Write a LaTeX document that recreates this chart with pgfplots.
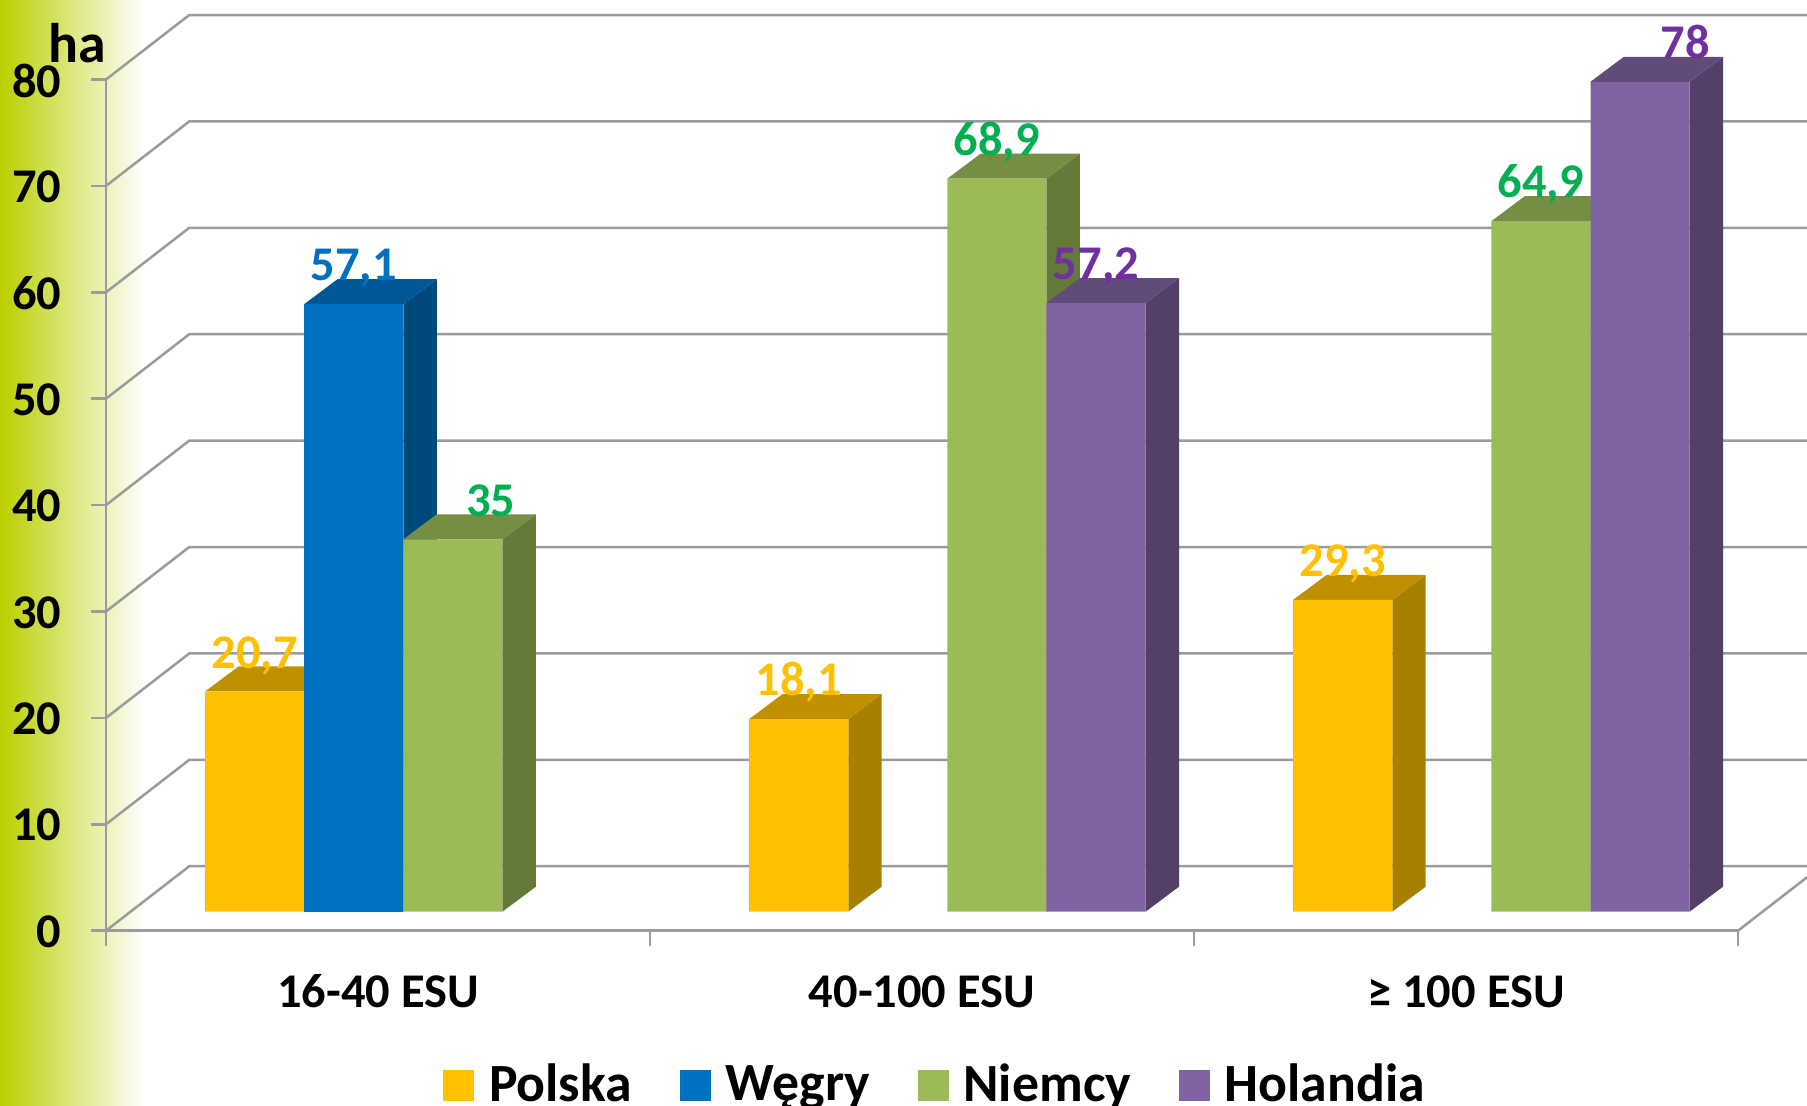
\documentclass[border=0pt]{standalone}
\usepackage{fontspec}
\setmainfont{Carlito}
\usepackage{pgfplots}
\pgfplotsset{compat=1.18}
\definecolor{lime}{RGB}{187,207,0}
\definecolor{axgray}{RGB}{155,155,155}
\definecolor{plf}{HTML}{FFC000}\definecolor{plt}{HTML}{C09000}\definecolor{pls}{HTML}{A68000}
\definecolor{wgf}{HTML}{0070C0}\definecolor{wgt}{HTML}{005796}\definecolor{wgs}{HTML}{00497D}
\definecolor{nmf}{HTML}{9BBB59}\definecolor{nmt}{HTML}{768E43}\definecolor{nms}{HTML}{647A3A}
\definecolor{hof}{HTML}{8064A2}\definecolor{hot}{HTML}{614B7B}\definecolor{hos}{HTML}{533F68}
\definecolor{lbgreen}{HTML}{00B050}\definecolor{lbpurple}{HTML}{7030A0}
\newcommand{\lblfont}{\fontsize{24.3}{27}\selectfont\bfseries}
\pgfplotsset{
  sq/.style={legend image code/.code={\fill[#1] (0,-8.25bp) rectangle (15.5bp,7.25bp);}},
  barlabels/.style={
    ybar, bar width=0.1822, bar shift=0pt, fill=#1, draw=none,
    visualization depends on={\thisrow{sh} \as \lsh},
    nodes near coords,
    nodes near coords style={font=\lblfont, text=#1, anchor=base, inner sep=0pt, yshift=11.6bp, xshift=\lsh bp},
  },
  face/.style={fill=#1, draw=none, forget plot},
  grid3d/.style={draw=axgray, line width=1.25bp, forget plot},
}
\begin{document}
\begin{tikzpicture}[x=1bp,y=1bp]
\path[use as bounding box, clip] (0,0) rectangle (903.5,553);
\shade[left color=lime, right color=white, shading angle=90] (0,0) rectangle (72.5,553);
% frame: front axis plane, walls and floor
\begin{axis}[
  at={(53bp,87.65bp)}, anchor=south west, scale only axis,
  width=816bp, height=425.6bp, xmin=0, xmax=3, ymin=0, ymax=80, clip=false,
  axis x line*=bottom, axis y line*=left,
  axis line style={draw=axgray, line width=1.25bp, -},
  xtick={0.5,1.5,2.5}, xticklabels={16-40 ESU,40-100 ESU,≥ 100 ESU},
  minor xtick={0,1,2,3}, major tick length=7.5bp, minor tick length=7.5bp,
  tick align=outside,
  xtick style={draw=none},
  minor x tick style={draw=axgray, line width=1.25bp},
  ytick={0,10,...,80},
  ytick style={draw=axgray, line width=1.25bp},
  ticklabel style={font=\lblfont},
  xticklabel style={yshift=-11.4bp, text height=16bp},
  yticklabel style={xshift=-11.3bp, yshift=-0.5bp},
  /pgf/number format/assume math mode=true,
  ylabel={ha},
  every axis y label/.style={at={(axis description cs:-0.0178,1.0194)}, anchor=base, font=\fontsize{28}{30}\selectfont\bfseries},
]
\addplot[grid3d] coordinates {(0,0) (0.1531,6.06) (3.1531,6.06)};
\addplot[grid3d] coordinates {(0,10) (0.1531,16.06) (3.1531,16.06)};
\addplot[grid3d] coordinates {(0,20) (0.1531,26.06) (3.1531,26.06)};
\addplot[grid3d] coordinates {(0,30) (0.1531,36.06) (3.1531,36.06)};
\addplot[grid3d] coordinates {(0,40) (0.1531,46.06) (3.1531,46.06)};
\addplot[grid3d] coordinates {(0,50) (0.1531,56.06) (3.1531,56.06)};
\addplot[grid3d] coordinates {(0,60) (0.1531,66.06) (3.1531,66.06)};
\addplot[grid3d] coordinates {(0,70) (0.1531,76.06) (3.1531,76.06)};
\addplot[grid3d] coordinates {(0,80) (0.1531,86.06) (3.1531,86.06)};
\addplot[grid3d] coordinates {(3,0) (3.1531,6.06)};
\end{axis}
% bars: the same scale, on the plane 19 px behind the front axis
\begin{axis}[
  at={(53bp,97.15bp)}, anchor=south west, scale only axis,
  width=816bp, height=425.6bp, xmin=0, xmax=3, ymin=0, ymax=80, clip=false,
  hide axis,
  /pgf/number format/assume math mode=true,
  /pgf/number format/use comma,
  legend columns=4, legend cell align=left,
  legend style={at={(axis description cs:0.5085,-0.2026)}, anchor=center, draw=none, fill=none,
    font=\fontsize{27}{29}\selectfont\bfseries,
    /tikz/every odd column/.append style={column sep=5.5bp},
    /tikz/every even column/.append style={column sep=21.8bp}},
]
% Polska
\addplot[face=pls] coordinates {(0.3644,0) (0.4258,2.35) (0.4258,23.05) (0.3644,20.7)};
\addplot[face=plt] coordinates {(0.1822,20.7) (0.2436,23.05) (0.4258,23.05) (0.3644,20.7)};
\addplot[face=pls] coordinates {(1.3644,0) (1.4258,2.35) (1.4258,20.45) (1.3644,18.1)};
\addplot[face=plt] coordinates {(1.1822,18.1) (1.2436,20.45) (1.4258,20.45) (1.3644,18.1)};
\addplot[face=pls] coordinates {(2.3644,0) (2.4258,2.35) (2.4258,31.65) (2.3644,29.3)};
\addplot[face=plt] coordinates {(2.1822,29.3) (2.2436,31.65) (2.4258,31.65) (2.3644,29.3)};
\addplot[barlabels=plf, sq=plf] table {
x y sh
0.2733 20.7 0
1.2733 18.1 0
2.2733 29.3 0
};
\addlegendentry{Polska}
% Wegry
\addplot[face=wgs] coordinates {(0.5466,0) (0.6080,2.35) (0.6080,59.45) (0.5466,57.1)};
\addplot[face=wgt] coordinates {(0.3644,57.1) (0.4258,59.45) (0.6080,59.45) (0.5466,57.1)};
\addplot[barlabels=wgf, sq=wgf] table {
x y sh
0.4555 57.1 0
};
\addlegendentry{Węgry}
% Niemcy
\addplot[face=nms] coordinates {(0.7288,0) (0.7902,2.35) (0.7902,37.35) (0.7288,35)};
\addplot[face=nmt] coordinates {(0.5466,35) (0.6080,37.35) (0.7902,37.35) (0.7288,35)};
\addplot[face=nms] coordinates {(1.7288,0) (1.7902,2.35) (1.7902,71.25) (1.7288,68.9)};
\addplot[face=nmt] coordinates {(1.5466,68.9) (1.6080,71.25) (1.7902,71.25) (1.7288,68.9)};
\addplot[face=nms] coordinates {(2.7288,0) (2.7902,2.35) (2.7902,67.25) (2.7288,64.9)};
\addplot[face=nmt] coordinates {(2.5466,64.9) (2.6080,67.25) (2.7902,67.25) (2.7288,64.9)};
\addplot[barlabels=nmf, sq=nmf, nodes near coords style={text=lbgreen}] table {
x y sh
0.6377 35 19
1.6377 68.9 0
2.6377 64.9 0
};
\addlegendentry{Niemcy}
% Holandia
\addplot[face=hos] coordinates {(1.9110,0) (1.9724,2.35) (1.9724,59.55) (1.9110,57.2)};
\addplot[face=hot] coordinates {(1.7288,57.2) (1.7902,59.55) (1.9724,59.55) (1.9110,57.2)};
\addplot[face=hos] coordinates {(2.9110,0) (2.9724,2.35) (2.9724,80.35) (2.9110,78)};
\addplot[face=hot] coordinates {(2.7288,78) (2.7902,80.35) (2.9724,80.35) (2.9110,78)};
\addplot[barlabels=hof, sq=hof, nodes near coords style={text=lbpurple}] table {
x y sh
1.8199 57.2 0
2.8199 78 22.7
};
\addlegendentry{Holandia}
\end{axis}
\end{tikzpicture}
\end{document}
